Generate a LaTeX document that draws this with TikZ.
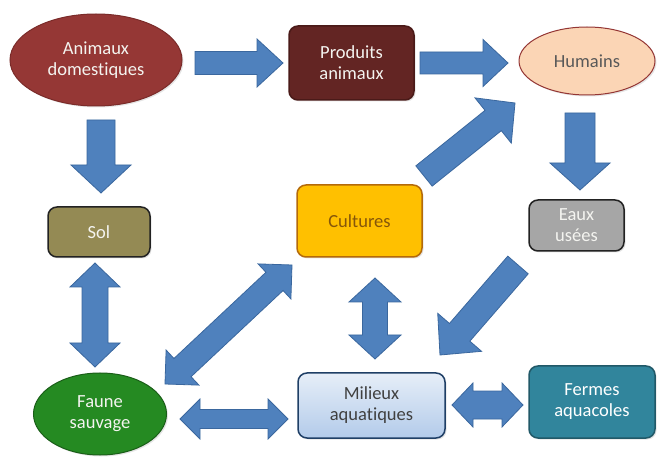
\documentclass[tikz,border=0pt]{standalone}
\usepackage{fontspec}
\setmainfont{Carlito}[Ligatures={NoCommon}]
\usetikzlibrary{calc,shapes.geometric,shadows}
\definecolor{arrfill}{HTML}{4F81BD}
\definecolor{arrdraw}{HTML}{3A679E}
\definecolor{adfill}{HTML}{953735}
\definecolor{addraw}{HTML}{7A2B29}
\definecolor{pafill}{HTML}{632523}
\definecolor{padraw}{HTML}{4A1A18}
\definecolor{hufill}{HTML}{FBD5B5}
\definecolor{hudraw}{HTML}{943634}
\definecolor{hutext}{HTML}{595959}
\definecolor{solfill}{HTML}{948A54}
\definecolor{darkline}{HTML}{222222}
\definecolor{cufill}{HTML}{FFC000}
\definecolor{cudraw}{HTML}{B46A0A}
\definecolor{cutext}{HTML}{85560A}
\definecolor{eufill}{HTML}{A6A6A6}
\definecolor{fsfill}{HTML}{258A22}
\definecolor{fsdraw}{HTML}{1A5E18}
\definecolor{matop}{HTML}{E6EEF8}
\definecolor{mabot}{HTML}{B3CBEA}
\definecolor{madraw}{HTML}{1F3F66}
\definecolor{matext}{HTML}{404040}
\definecolor{fafill}{HTML}{31859C}
\definecolor{fadraw}{HTML}{215968}
\definecolor{lighttext}{HTML}{F4F4F0}
\tikzset{
  every node/.style={font=\fontsize{18.5}{21}\selectfont, align=center, inner sep=0pt},
  shad/.style={drop shadow={opacity=0.2, shadow xshift=1.5pt, shadow yshift=-1.5pt}},
  ell/.style={ellipse, line width=1pt, shad},
  box/.style={rectangle, rounded corners=9pt, line width=1.5pt, shad},
  blockarrow/.style={fill=arrfill, draw=arrdraw, line width=0.8pt}
}
\newcommand\SingleBlock[5]{% from, to, shaft half width, head half width, head length
  \coordinate (hbX) at ($(#2)!#5!(#1)$);
  \draw[blockarrow] ($(#1)!#3!90:(#2)$) -- ($(hbX)!#3!-90:(#1)$) -- ($(hbX)!#4!-90:(#1)$) -- (#2)
    -- ($(hbX)!#4!90:(#1)$) -- ($(hbX)!#3!90:(#1)$) -- ($(#1)!#3!-90:(#2)$) -- cycle;
}
\newcommand\DoubleBlock[5]{%
  \coordinate (haX) at ($(#1)!#5!(#2)$);
  \coordinate (hbX) at ($(#2)!#5!(#1)$);
  \draw[blockarrow] (#1) -- ($(haX)!#4!90:(#2)$) -- ($(haX)!#3!90:(#2)$) -- ($(hbX)!#3!-90:(#1)$)
    -- ($(hbX)!#4!-90:(#1)$) -- (#2) -- ($(hbX)!#4!90:(#1)$) -- ($(hbX)!#3!90:(#1)$)
    -- ($(haX)!#3!-90:(#2)$) -- ($(haX)!#4!-90:(#2)$) -- cycle;
}
\begin{document}
\begin{tikzpicture}[x=1pt,y=-1pt]
\useasboundingbox[fill=white] (0,0) rectangle (662,457);
% nodes
\node[ell, fill=adfill, draw=addraw, text=lighttext, minimum width=172pt, minimum height=92pt] (ad) at (96,60) {Animaux\\domestiques};
\node[box, fill=pafill, draw=padraw, text=lighttext, minimum width=125pt, minimum height=74pt] (pa) at (351.5,63) {Produits\\animaux};
\node[ell, fill=hufill, draw=hudraw, text=hutext, minimum width=136pt, minimum height=68pt] (hu) at (587,61) {Humains};
\node[box, fill=solfill, draw=darkline, text=lighttext, minimum width=102pt, minimum height=50pt] (sol) at (99,232) {Sol};
\node[box, fill=cufill, draw=cudraw, text=cutext, minimum width=125pt, minimum height=72pt] (cu) at (359.5,221) {Cultures};
\node[box, fill=eufill, draw=darkline, text=lighttext, minimum width=95pt, minimum height=51pt] (eu) at (576.5,225.5) {Eaux\\usées};
\node[ell, fill=fsfill, draw=fsdraw, text=lighttext, minimum width=133pt, minimum height=82pt] (fs) at (100,414) {Faune\\sauvage};
\node[box, top color=matop, bottom color=mabot, draw=madraw, text=matext, minimum width=147pt, minimum height=65pt] (ma) at (371.5,405.5) {Milieux\\aquatiques};
\node[box, fill=fafill, draw=fadraw, text=white, minimum width=126pt, minimum height=72pt] (fa) at (592,402) {Fermes\\aquacoles};
% arrow end points
\coordinate (adpaS) at (195,63);   \coordinate (adpaE) at (283,63);
\coordinate (pahuS) at (420,63);   \coordinate (pahuE) at (508,63);
\coordinate (adsolS) at (101,120); \coordinate (adsolE) at (101,193);
\coordinate (hueuS) at (580,113);  \coordinate (hueuE) at (580,190);
\coordinate (cuhuS) at (424,176);  \coordinate (cuhuE) at (515,103);
\coordinate (solfsS) at (95,263);  \coordinate (solfsE) at (95,367);
\coordinate (fscuS) at (165,384);  \coordinate (fscuE) at (292,265);
\coordinate (fsmaS) at (180,419);  \coordinate (fsmaE) at (288,419);
\coordinate (cumaS) at (375,278);  \coordinate (cumaE) at (375,359);
\coordinate (eumaS) at (518,265);  \coordinate (eumaE) at (440,355);
\coordinate (mafaS) at (452,405);  \coordinate (mafaE) at (523,405);
% arrows
\SingleBlock{adpaS}{adpaE}{11.5pt}{24pt}{26pt}
\SingleBlock{pahuS}{pahuE}{11pt}{23.5pt}{25pt}
\SingleBlock{adsolS}{adsolE}{14pt}{30pt}{28pt}
\SingleBlock{hueuS}{hueuE}{15pt}{30pt}{27pt}
\SingleBlock{cuhuS}{cuhuE}{13pt}{29pt}{28pt}
\DoubleBlock{solfsS}{solfsE}{13pt}{25pt}{24pt}
\DoubleBlock{fscuS}{fscuE}{12.5pt}{24pt}{24pt}
\DoubleBlock{fsmaS}{fsmaE}{9.5pt}{20pt}{20pt}
\DoubleBlock{cumaS}{cumaE}{12.5pt}{26pt}{24pt}
\SingleBlock{eumaS}{eumaE}{13.5pt}{29pt}{30pt}
\DoubleBlock{mafaS}{mafaE}{14pt}{22pt}{21pt}
\end{tikzpicture}
\end{document}
